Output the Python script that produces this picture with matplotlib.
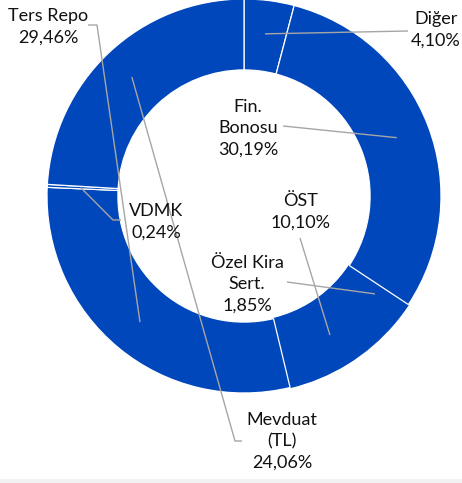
import numpy as np
import matplotlib
matplotlib.use("Agg")
import matplotlib.pyplot as plt
from matplotlib.patches import Rectangle

# portfolio shares (%), clockwise from the top
names = ["Diğer", "Fin.\nBonosu", "Özel Kira\nSert.", "ÖST", "Ters Repo", "VDMK", "Mevduat\n(TL)"]
shares = [4.10, 30.19, 1.85, 10.10, 29.46, 0.24, 24.06]

# label layout in pixels (centre of text block, leader end near the text, optional short tail)
label_pos = [(436, 30), (248, 128), (247, 284), (301, 212), (48, 27), (156, 222), (282, 441)]
leader_end = [(408, 31), (283, 126), (287, 282), (300, 238), (97, 25), (113, 220), (235, 441)]
leader_tail = [None, None, None, None, (88, 25), (121, 220), (242, 441)]

BLUE = "#0047BB"
W, H = 462, 483
CX, CY, R = 244, 196, 197


def px(p):
    return ((p[0] - CX) / R, (CY - p[1]) / R)


plt.rcParams['font.family'] = ['Lato', 'DejaVu Sans']

fig = plt.figure(figsize=(W / 100, H / 100), dpi=100)
ax = fig.add_axes([0, 0, 1, 1])

wedges, _ = ax.pie(shares, colors=[BLUE] * len(shares), startangle=90, counterclock=False,
                   radius=1, wedgeprops=dict(width=0.36, edgecolor='white', linewidth=0.9))
for w in wedges:
    w.set_zorder(2)
# no visible border between Özel Kira and ÖST in the original
for i in (2, 3):
    wedges[i].set_edgecolor(BLUE)
    wedges[i].set_zorder(1)

cum = np.cumsum([0] + shares[:-1])
for i, (name, v) in enumerate(zip(names, shares)):
    mid = np.deg2rad(90 - (cum[i] + v / 2) * 3.6)
    ax_pt = (0.83 * np.cos(mid), 0.83 * np.sin(mid))
    e = px(leader_end[i])
    xs, ys = [ax_pt[0], e[0]], [ax_pt[1], e[1]]
    if leader_tail[i] is not None:
        t = px(leader_tail[i])
        xs.append(t[0])
        ys.append(t[1])
    ax.plot(xs, ys, color='#A6A6A6', lw=1.0, zorder=3, solid_capstyle='butt')
    lx, ly = px(label_pos[i])
    txt = name + "\n" + f"{v:.2f}".replace('.', ',') + "%"
    ax.text(lx, ly, txt, ha='center', va='center', fontsize=13, linespacing=1.4,
            color='#111111', zorder=4)

ax.set_aspect('auto')
ax.set_xlim(-CX / R, (W - CX) / R)
ax.set_ylim(-(H - CY) / R, CY / R)
ax.axis('off')

fig.patches.append(Rectangle((0, 0), 1, 4 / H, transform=fig.transFigure,
                             facecolor='#F2F2F2', edgecolor='none'))

fig.savefig("out.png", dpi=100)
